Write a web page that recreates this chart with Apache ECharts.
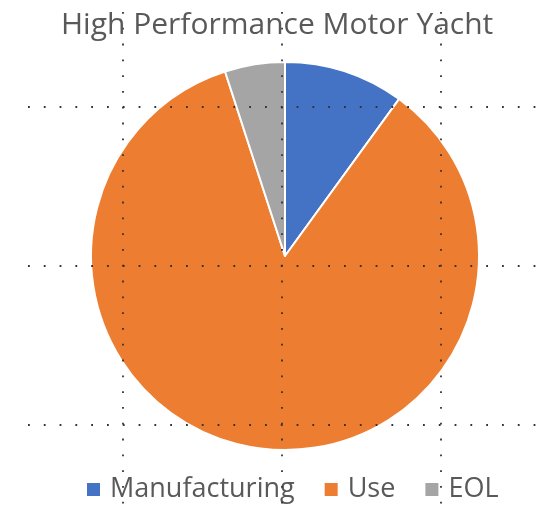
<!DOCTYPE html>
<html>
<head>
<meta charset="utf-8">
<script src="https://cdn.jsdelivr.net/npm/echarts@6/dist/echarts.min.js"></script>
<style>
  html, body { margin: 0; padding: 0; background: #fff; }
  #main { width: 539px; height: 509px; }
</style>
</head>
<body>
<div id="main"></div>
<script>
var titleText = 'High Performance Motor Yacht';
var categories = ['Manufacturing', 'Use', 'EOL'];
var values = [10, 85, 5];
var colors = ['#4472C4', '#ED7D31', '#A5A5A5'];

var chart = echarts.init(document.getElementById('main'));

var pieData = [];
for (var i = 0; i < categories.length; i++) {
    pieData.push({ name: categories[i], value: values[i], itemStyle: { color: colors[i] } });
}

// dotted guide lines on top of the pie
var dotted = {
    show: true,
    showMinLine: false,
    showMaxLine: false,
    lineStyle: { color: '#333', width: 1.8, type: [1.8, 14] }
};

var option = {
    backgroundColor: '#fff',
    animation: false,
    title: {
        text: titleText,
        left: 56,
        top: 5,
        textStyle: {
            color: '#595959',
            fontFamily: 'Open Sans',
            fontWeight: 'normal',
            fontSize: 30
        }
    },
    legend: {
        data: categories,
        left: 80,
        top: 471,
        itemWidth: 15,
        itemHeight: 15,
        itemGap: 28,
        icon: 'rect',
        textStyle: {
            color: '#595959',
            fontFamily: 'Open Sans',
            fontSize: 27,
            padding: [0, 0, 0, 4]
        }
    },
    grid: [
        { left: -36, right: -61, top: 12, bottom: 0, z: 5, outerBoundsMode: 'none', containLabel: false },
        { left: 28, right: 0, top: -52, bottom: -75, z: 5, outerBoundsMode: 'none', containLabel: false }
    ],
    xAxis: [
        { gridIndex: 0, type: 'value', min: 0, max: 4, interval: 1, z: 5,
          axisLine: { show: false }, axisTick: { show: false }, axisLabel: { show: false },
          splitLine: dotted },
        { gridIndex: 1, type: 'value', min: 0, max: 4, interval: 1, show: false }
    ],
    yAxis: [
        { gridIndex: 0, type: 'value', min: 0, max: 4, interval: 1, show: false },
        { gridIndex: 1, type: 'value', min: 0, max: 4, interval: 1, z: 5,
          axisLine: { show: false }, axisTick: { show: false }, axisLabel: { show: false },
          splitLine: dotted }
    ],
    series: [{
        type: 'pie',
        z: 2,
        center: [285, 256],
        radius: [0, 194],
        startAngle: 90,
        clockwise: true,
        label: { show: false },
        labelLine: { show: false },
        itemStyle: { borderColor: '#fff', borderWidth: 2 },
        emphasis: { disabled: true },
        data: pieData
    }]
};

chart.setOption(option);
</script>
</body>
</html>
